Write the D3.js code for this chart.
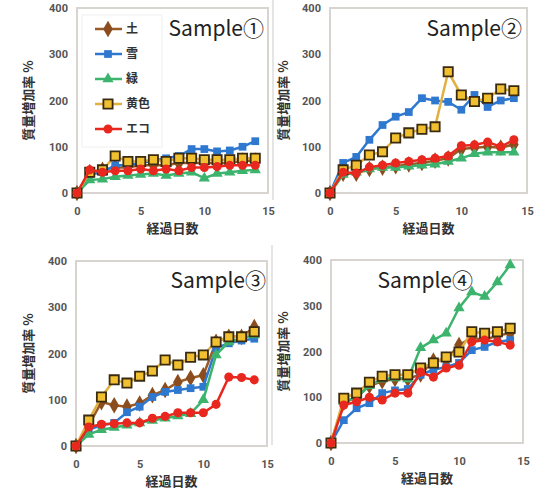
<!DOCTYPE html>
<html>
<head>
<meta charset="utf-8">
<script src="https://cdn.jsdelivr.net/npm/d3@7"></script>
<style>
  body { margin: 0; background: #fff; }
  svg { display: block; }
</style>
</head>
<body>
<div id="chart"></div>
<script>
// データ
var days = [0, 1, 2, 3, 4, 5, 6, 7, 8, 9, 10, 11, 12, 13, 14];
var seriesNames = ["土", "雪", "緑", "黄色", "エコ"];
var yTicks = [0, 100, 200, 300, 400];
var xTicks = [0, 5, 10, 15];
var sampleTitles = ["Sample①", "Sample②", "Sample③", "Sample④"];

// 順番: 土, 雪, 緑, 黄色, エコ
var sample1 = [
    [0, 45, 50, 55, 55, 60, 60, 60, 65, 65, 65, 65, 65, 70, 70],
    [0, 40, 45, 60, 60, 65, 70, 75, 80, 95, 95, 90, 92, 100, 112],
    [0, 28, 30, 35, 38, 40, 42, 38, 42, 45, 32, 42, 45, 48, 50],
    [0, 45, 50, 80, 68, 68, 72, 68, 75, 75, 72, 72, 72, 75, 75],
    [0, 50, 45, 48, 48, 52, 48, 52, 48, 55, 55, 57, 60, 60, 60]
];
var sample2 = [
    [0, 42, 42, 52, 55, 58, 62, 65, 70, 75, 95, 98, 100, 98, 105],
    [0, 65, 78, 115, 147, 165, 175, 205, 200, 197, 180, 212, 186, 200, 205],
    [0, 40, 45, 52, 55, 55, 58, 60, 62, 68, 75, 85, 88, 88, 88],
    [0, 50, 60, 82, 89, 119, 130, 138, 143, 262, 212, 198, 205, 225, 221],
    [0, 45, 43, 56, 60, 65, 68, 72, 75, 80, 102, 104, 110, 100, 115]
];
var sample3 = [
    [0, 45, 95, 88, 85, 92, 110, 121, 138, 147, 153, 225, 236, 236, 257],
    [0, 35, 45, 50, 73, 85, 106, 117, 121, 125, 128, 212, 222, 228, 232],
    [0, 25, 35, 40, 45, 50, 55, 60, 65, 70, 100, 197, 225, 233, 240],
    [0, 56, 106, 143, 136, 151, 162, 186, 175, 192, 197, 225, 236, 236, 247],
    [0, 41, 47, 48, 50, 50, 60, 64, 72, 72, 72, 90, 149, 148, 143]
];
var sample4 = [
    [0, 88, 100, 125, 135, 140, 140, 150, 180, 182, 214, 230, 225, 235, 240],
    [0, 50, 76, 87, 109, 115, 118, 149, 160, 166, 175, 203, 210, 221, 225],
    [0, 90, 100, 125, 140, 142, 140, 208, 225, 240, 295, 330, 320, 352, 389],
    [0, 98, 109, 133, 146, 149, 149, 164, 175, 188, 199, 243, 240, 243, 251],
    [0, 83, 90, 100, 94, 109, 109, 155, 144, 164, 170, 221, 225, 221, 214]
];
var samples = [sample1, sample2, sample3, sample4];

// 各系列のスタイル
var lineColors = ["#9a5a28", "#2f78d0", "#3cb46e", "#e0b040", "#e8281e"];
var markerFill = ["#8b4d1e", "#2f78d0", "#3cb46e", "#f0c030", "#e8281e"];
var markerStroke = ["none", "none", "none", "#3a2a10", "none"];
var markerShape = [d3.symbolDiamond, d3.symbolSquare, d3.symbolTriangle, d3.symbolSquare, d3.symbolCircle];
var markerSize = [80, 60, 55, 85, 65];

// パネル位置（プロット領域）
var panels = [
    { left: 77, right: 268, top: 8, bottom: 193, titleX: 264, titleY: 36, ylabX: 28 },
    { left: 330, right: 527, top: 8, bottom: 193, titleX: 522, titleY: 36, ylabX: 283 },
    { left: 76, right: 267, top: 261, bottom: 446, titleX: 266, titleY: 288, ylabX: 28 },
    { left: 331, right: 523, top: 260, bottom: 443, titleX: 473, titleY: 288, ylabX: 283 }
];

var svg = d3.select("#chart")
    .append("svg")
    .attr("width", 535)
    .attr("height", 490);

// 外枠の線
svg.append("line").attr("x1", 273).attr("x2", 273).attr("y1", 0).attr("y2", 200)
    .attr("stroke", "#ddd").attr("stroke-width", 1.5);
svg.append("line").attr("x1", 272).attr("x2", 272).attr("y1", 245).attr("y2", 445)
    .attr("stroke", "#ddd").attr("stroke-width", 1.5);

panels.forEach(function (p, pi) {
    var x = d3.scaleLinear().domain([0, 15]).range([p.left, p.right]);
    var y = d3.scaleLinear().domain([0, 400]).range([p.bottom, p.top]);
    var g = svg.append("g");

    // プロット枠
    g.append("rect")
        .attr("x", p.left).attr("y", p.top)
        .attr("width", p.right - p.left).attr("height", p.bottom - p.top)
        .attr("fill", "none").attr("stroke", "#d8d4d0").attr("stroke-width", 2);

    // Y 軸
    var yAxis = g.append("g")
        .attr("transform", "translate(" + (p.left - 6) + ",0)")
        .call(d3.axisLeft(y).tickValues(yTicks).tickSize(0));
    yAxis.select(".domain").remove();
    yAxis.selectAll("text").attr("fill", "#555").style("font-size", "11px")
        .style("font-weight", "bold").style("font-family", "Roboto, sans-serif");

    // X 軸
    var xAxis = g.append("g")
        .attr("transform", "translate(0," + (p.bottom + 11) + ")")
        .call(d3.axisBottom(x).tickValues(xTicks).tickSize(0));
    xAxis.select(".domain").remove();
    xAxis.selectAll("text").attr("fill", "#555").style("font-size", "11px")
        .style("font-weight", "bold").style("font-family", "Roboto, sans-serif");

    // 軸ラベル
    g.append("text")
        .attr("x", (p.left + p.right) / 2)
        .attr("y", p.bottom + 40)
        .attr("text-anchor", "middle")
        .style("font-family", "Noto Sans CJK JP")
        .style("font-size", "13px").style("font-weight", "bold")
        .attr("fill", "#333")
        .text("経過日数");

    g.append("text")
        .attr("transform", "translate(" + p.ylabX + "," + ((p.top + p.bottom) / 2) + ") rotate(-90)")
        .attr("text-anchor", "middle")
        .attr("dy", "0.35em")
        .style("font-family", "Noto Sans CJK JP")
        .style("font-size", "13px").style("font-weight", "bold")
        .attr("fill", "#333")
        .text("質量増加率 %");

    // 系列
    var line = d3.line()
        .x(function (d, i) { return x(days[i]); })
        .y(function (d) { return y(d); });

    samples[pi].forEach(function (vals, si) {
        g.append("path")
            .datum(vals)
            .attr("d", line)
            .attr("fill", "none")
            .attr("stroke", lineColors[si])
            .attr("stroke-width", 2.5);

        g.selectAll(".m" + si)
            .data(vals)
            .enter()
            .append("path")
            .attr("class", "m" + si)
            .attr("transform", function (d, i) { return "translate(" + x(days[i]) + "," + y(d) + ")"; })
            .attr("d", d3.symbol().type(markerShape[si]).size(markerSize[si]))
            .attr("fill", markerFill[si])
            .attr("stroke", markerStroke[si])
            .attr("stroke-width", 1.8);
    });

    // タイトル
    g.append("text")
        .attr("x", p.titleX)
        .attr("y", p.titleY)
        .attr("text-anchor", "end")
        .style("font-family", "Noto Sans CJK JP")
        .style("font-size", "21px")
        .attr("fill", "#222")
        .text(sampleTitles[pi]);
});

// 凡例（Sample① のみ）
var legend = svg.append("g");
legend.append("rect")
    .attr("x", 82).attr("y", 15).attr("width", 80).attr("height", 132)
    .attr("fill", "#fff").attr("stroke", "#f0f0f0");

seriesNames.forEach(function (name, si) {
    var ly = 29 + si * 25;
    legend.append("line")
        .attr("x1", 95).attr("x2", 122).attr("y1", ly).attr("y2", ly)
        .attr("stroke", lineColors[si]).attr("stroke-width", 2.5);
    legend.append("path")
        .attr("transform", "translate(108," + ly + ")")
        .attr("d", d3.symbol().type(markerShape[si]).size(markerSize[si]))
        .attr("fill", markerFill[si])
        .attr("stroke", markerStroke[si])
        .attr("stroke-width", 1.8);
    legend.append("text")
        .attr("x", 126).attr("y", ly)
        .attr("dy", "0.35em")
        .style("font-family", "Noto Sans CJK JP")
        .style("font-size", "12px").style("font-weight", "bold")
        .attr("fill", "#333")
        .text(name);
});
</script>
</body>
</html>
